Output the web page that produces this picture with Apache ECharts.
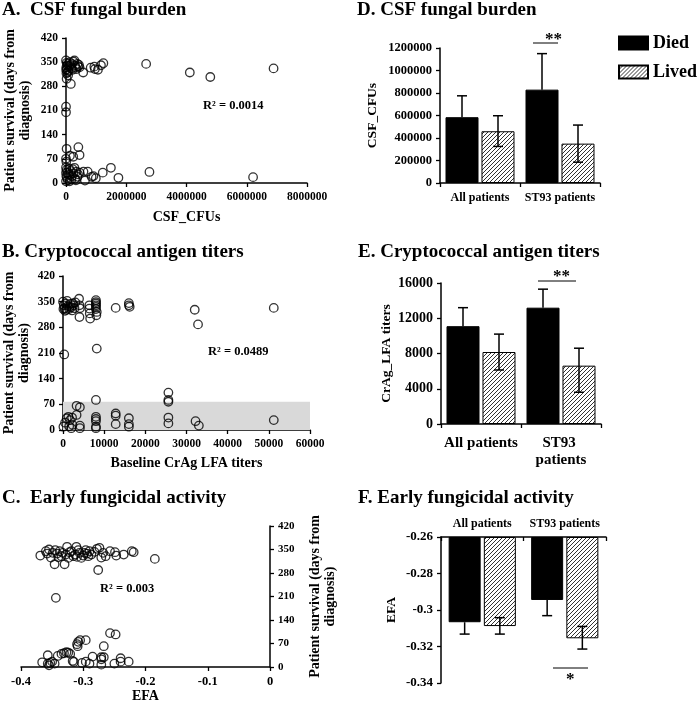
<!DOCTYPE html>
<html><head><meta charset="utf-8">
<script src="https://cdn.jsdelivr.net/npm/echarts@6/dist/echarts.min.js"></script>
<style>html,body{margin:0;padding:0;background:#fff}#c{width:700px;height:708px}</style>
</head><body><div id="c"></div>
<script>
// ---------- DATA ----------
// Panel A: CSF fungal burden (CFU) vs survival days
const scatterA = [
 [0,355],[20000,348],[40000,340],[10000,335],[30000,330],[60000,345],[80000,325],[50000,320],[100000,338],[120000,350],
 [150000,342],[180000,332],[200000,345],[220000,328],[250000,352],[280000,355],[300000,340],[320000,335],[350000,330],[380000,345],
 [400000,338],[430000,342],[450000,335],[5000,328],[15000,318],[70000,312],[20000,302],[160000,287],[570000,320],[820000,334],
 [940000,337],[1060000,328],[1160000,341],[1240000,347],[960000,330],[2660000,345],[4110000,320],[4790000,307],[6890000,332],
 [0,221],[0,205],
 [20000,99],[410000,104],[450000,81],[130000,79],[240000,76],[0,70],[10000,62],
 [0,45],[20000,38],[50000,30],[80000,25],[100000,42],[150000,35],[200000,20],[250000,28],[280000,44],[300000,12],
 [350000,33],[400000,25],[30000,15],[60000,8],[120000,5],[180000,10],[0,5],[10000,20],[0,30],[220000,40],[330000,8],
 [380000,18],[450000,30],[580000,33],[720000,33],[850000,18],[990000,14],[630000,7],[910000,20],[1220000,30],[1490000,44],
 [1740000,15],[2770000,32],[6210000,17]
];
// Panel B: baseline CrAg LFA titers vs survival days
const scatterB = [
 [0,350],[200,340],[400,332],[600,345],[800,328],[1000,352],[1200,338],[1500,330],[1800,344],[2000,335],
 [2200,326],[2500,340],[2800,332],[3000,348],[500,325],[1600,336],[2400,345],[100,330],
 [3900,358],[4000,340],[4000,308],[4100,332],[6400,340],[6400,331],[6500,318],[6600,304],
 [8000,354],[8000,349],[8000,345],[8000,340],[8000,336],[8000,330],[8200,322],[8100,313],
 [8200,222],[300,206],[12800,333],[16000,346],[16000,340],[16200,336],[32000,328],[32800,288],[51200,333],
 [100,9],[900,32],[1300,36],[1700,27],[2200,34],[2300,14],[3300,41],[3300,66],[4100,62],[4100,12],[4100,5],
 [500,20],[1500,10],[2000,5],[8000,82],[8000,36],[8000,30],[8000,24],[8000,9],[8000,5],
 [12800,45],[12800,39],[12800,16],[16000,32],[16000,16],[16000,9],
 [25600,102],[25600,82],[25600,77],[25600,34],[25600,18],[32200,24],[33000,12],[51200,27]
];
const bandB = [0, 77];   // shaded survival range (days)
// Panel C: EFA vs survival days
const scatterC = [
 [-0.369,332],[-0.36,345],[-0.355,350],[-0.349,340],[-0.352,326],[-0.346,306],[-0.342,338],[-0.338,345],[-0.335,330],[-0.33,306],
 [-0.326,358],[-0.324,325],[-0.319,345],[-0.313,335],[-0.31,328],[-0.311,358],[-0.306,340],[-0.3,332],[-0.296,348],[-0.294,338],
 [-0.29,345],[-0.287,335],[-0.276,289],[-0.274,355],[-0.271,326],[-0.264,330],[-0.257,345],[-0.249,342],[-0.247,332],[-0.235,335],
 [-0.222,345],[-0.219,342],[-0.185,322],[-0.358,338],[-0.345,348],[-0.34,327],[-0.333,340],[-0.328,335],[-0.322,342],[-0.316,330],
 [-0.308,348],[-0.303,325],[-0.298,340],[-0.292,330],[-0.282,343],[-0.278,352],[-0.268,340],[-0.344,206],
 [-0.366,14],[-0.357,35],[-0.357,10],[-0.353,12],[-0.35,16],[-0.346,10],[-0.341,33],[-0.335,39],[-0.331,41],[-0.327,44],
 [-0.324,43],[-0.321,39],[-0.317,18],[-0.315,15],[-0.31,68],[-0.308,75],[-0.305,80],[-0.296,80],[-0.309,62],[-0.302,12],
 [-0.296,16],[-0.29,10],[-0.285,31],[-0.271,29],[-0.271,23],[-0.271,7],[-0.267,62],[-0.267,29],[-0.257,101],[-0.248,97],
 [-0.25,10],[-0.24,26],[-0.24,16],[-0.227,16],[-0.355,5]
];
const r2Labels = ['R² = 0.0014', 'R² = 0.0489', 'R² = 0.003'];

const groups = ['All patients', 'ST93 patients'];
const seriesNames = ['Died', 'Lived'];
// Panel D: CSF CFUs
const diedD = [585000, 830000];
const diedDHigh = [775000, 1150000];
const livedD = [460000, 350000];
const livedDLow = [325000, 185000];
const livedDHigh = [598000, 515000];
// Panel E: CrAg LFA titers
const diedE = [11100, 13200];
const diedEHigh = [13200, 15300];
const livedE = [8170, 6620];
const livedELow = [6130, 3600];
const livedEHigh = [10200, 8600];
// Panel F: EFA
const diedF = [-0.3067, -0.2945];
const diedFLow = [-0.3132, -0.3031];
const livedF = [-0.3088, -0.3155];
const livedFLow = [-0.3132, -0.3214];
const livedFHigh = [-0.3042, -0.309];

const ticksScatterY = [0, 420, 70];

// ---------- STYLE ----------
const FF = "'Liberation Serif','Times New Roman',serif";
const hatch = document.createElement('canvas');
hatch.width = 4; hatch.height = 4;
(function(){
  const g = hatch.getContext('2d');
  g.fillStyle = '#fff'; g.fillRect(0,0,4,4);
  g.strokeStyle = '#333'; g.lineWidth = 1;
  g.beginPath();
  g.moveTo(0,4); g.lineTo(4,0);
  g.moveTo(-1,1); g.lineTo(1,-1);
  g.moveTo(3,5); g.lineTo(5,3);
  g.stroke();
})();
const hatchFill = {image: hatch, repeat: 'repeat'};

const axLine = {show:true, lineStyle:{color:'#000', width:1.5}};
const axTick = {show:true, length:4, lineStyle:{color:'#000', width:1.3}};
const lab = (size) => ({color:'#000', fontFamily:FF, fontWeight:'bold', fontSize:size, formatter: v => String(parseFloat(Number(v).toFixed(4)))});
const nameStyle = (size, lh) => ({color:'#000', fontFamily:FF, fontWeight:'bold', fontSize:size, lineHeight: lh || size+1});
const circle = {color:'rgba(0,0,0,0)', borderColor:'#000', borderWidth:1.3};

// capLow / capHigh: whether to draw the cap at the low / high end
function errBar(xi, yi, lows, highs, offset, capLow, capHigh) {
  return {
    type:'custom', xAxisIndex:xi, yAxisIndex:yi, z:10, silent:true,
    data: lows.map((l,i)=>[i, l, highs[i]]),
    renderItem: function(params, api){
      const lo = api.coord([api.value(0), api.value(1)]);
      const hi = api.coord([api.value(0), api.value(2)]);
      const x = lo[0] + offset;
      const st = {stroke:'#000', lineWidth:1.5};
      const ch = [{type:'line', shape:{x1:x, y1:lo[1], x2:x, y2:hi[1]}, style:st}];
      if (capHigh) ch.push({type:'line', shape:{x1:x-5, y1:hi[1], x2:x+5, y2:hi[1]}, style:st});
      if (capLow) ch.push({type:'line', shape:{x1:x-5, y1:lo[1], x2:x+5, y2:lo[1]}, style:st});
      return {type:'group', children:ch};
    }
  };
}

const titleStyle = {color:'#000', fontFamily:FF, fontWeight:'bold', fontSize:19};
const chart = echarts.init(document.getElementById('c'), null, {renderer:'canvas'});

const option = {
  animation:false,
  backgroundColor:'#fff',
  title:[
    {text:'A.  CSF fungal burden', left:2, top:1, padding:0, textStyle:titleStyle},
    {text:'B. Cryptococcal antigen titers', left:2, top:243, padding:0, textStyle:titleStyle},
    {text:'C.  Early fungicidal activity', left:2, top:489, padding:0, textStyle:titleStyle},
    {text:'D. CSF fungal burden', left:357, top:1, padding:0, textStyle:titleStyle},
    {text:'E. Cryptococcal antigen titers', left:358, top:243, padding:0, textStyle:titleStyle},
    {text:'F. Early fungicidal activity', left:358, top:489, padding:0, textStyle:titleStyle}
  ],
  legend:{
    data:seriesNames, orient:'vertical', left:618, top:34, itemWidth:29, itemHeight:13, itemGap:11,
    icon:'rect', padding:0,
    textStyle:{color:'#000', fontFamily:FF, fontWeight:'bold', fontSize:18}
  },
  grid:[
    {left:66, top:38, width:241, height:145},
    {left:63, top:276, width:247, height:154},
    {left:21, top:526, width:249, height:141},
    {left:440, top:48, width:160, height:135},
    {left:441, top:283, width:160, height:141},
    {left:441, top:537, width:165, height:146}
  ],
  xAxis:[
    {gridIndex:0, type:'value', min:0, max:8000000, interval:2000000, axisLine:axLine, axisTick:axTick, splitLine:{show:false},
     axisLabel:lab(11.5), name:'CSF_CFUs', nameLocation:'middle', nameGap:27, nameTextStyle:nameStyle(14)},
    {gridIndex:1, type:'value', min:0, max:60000, interval:10000, axisLine:axLine, axisTick:axTick, splitLine:{show:false},
     axisLabel:lab(11.5), name:'Baseline CrAg LFA titers', nameLocation:'middle', nameGap:26, nameTextStyle:nameStyle(14)},
    {gridIndex:2, type:'value', min:-0.4, max:0, interval:0.1, axisLine:axLine, axisTick:axTick, splitLine:{show:false},
     axisLabel:lab(12.5), name:'EFA', nameLocation:'middle', nameGap:22, nameTextStyle:nameStyle(14)},
    {gridIndex:3, type:'category', data:groups, axisLine:axLine, axisTick:axTick,
     axisLabel:{interval:0, color:'#000', fontFamily:FF, fontWeight:'bold', fontSize:12, margin:9}},
    {gridIndex:4, type:'category', data:groups, axisLine:axLine, axisTick:axTick,
     axisLabel:{interval:0, color:'#000', fontFamily:FF, fontWeight:'bold', fontSize:15, margin:11, width:82, overflow:'break', lineHeight:17}},
    {gridIndex:5, type:'category', data:groups, position:'top', axisLine:axLine, axisTick:{show:true, inside:true, length:4, lineStyle:{color:'#000', width:1.3}},
     axisLabel:{interval:0, color:'#000', fontFamily:FF, fontWeight:'bold', fontSize:12, margin:7}}
  ],
  yAxis:[
    {gridIndex:0, type:'value', min:ticksScatterY[0], max:ticksScatterY[1], interval:ticksScatterY[2], axisLine:axLine, axisTick:axTick, splitLine:{show:false},
     axisLabel:lab(11.5), name:'Patient survival (days from\ndiagnosis)', nameLocation:'middle', nameGap:33, nameTextStyle:nameStyle(14,15)},
    {gridIndex:1, type:'value', min:ticksScatterY[0], max:ticksScatterY[1], interval:ticksScatterY[2], axisLine:axLine, axisTick:axTick, splitLine:{show:false},
     axisLabel:lab(11.5), name:'Patient survival (days from\ndiagnosis)', nameLocation:'middle', nameGap:31, nameTextStyle:nameStyle(14,15)},
    {gridIndex:2, type:'value', position:'right', min:ticksScatterY[0], max:ticksScatterY[1], interval:ticksScatterY[2], axisLine:axLine, axisTick:axTick, splitLine:{show:false},
     axisLabel:lab(11), name:'Patient survival (days from\ndiagnosis)', nameLocation:'middle', nameGap:38, nameTextStyle:nameStyle(14,15)},
    {gridIndex:3, type:'value', min:0, max:1200000, interval:200000, axisLine:axLine, axisTick:axTick, splitLine:{show:false},
     axisLabel:lab(12.5), name:'CSF_CFUs', nameLocation:'middle', nameGap:60, nameTextStyle:nameStyle(13.5)},
    {gridIndex:4, type:'value', min:0, max:16000, interval:4000, axisLine:axLine, axisTick:axTick, splitLine:{show:false},
     axisLabel:lab(14), name:'CrAg_LFA titers', nameLocation:'middle', nameGap:46, nameTextStyle:nameStyle(13.5)},
    {gridIndex:5, type:'value', min:-0.34, max:-0.26, interval:0.02, startValue:-0.26, axisLine:axLine, axisTick:axTick, splitLine:{show:false},
     axisLabel:lab(13), name:'EFA', nameLocation:'middle', nameGap:42, nameTextStyle:nameStyle(13.5)}
  ],
  graphic:[
    {type:'text', left:203, top:99, style:{text:r2Labels[0], fill:'#000', font:"bold 12.5px 'Liberation Serif', serif"}},
    {type:'text', left:208, top:345, style:{text:r2Labels[1], fill:'#000', font:"bold 12.5px 'Liberation Serif', serif"}},
    {type:'text', left:100, top:582, style:{text:r2Labels[2], fill:'#000', font:"bold 12.5px 'Liberation Serif', serif"}},
    {type:'line', shape:{x1:533, y1:43, x2:558, y2:43}, style:{stroke:'#000', lineWidth:1}},
    {type:'text', left:545, top:31, style:{text:'**', fill:'#000', font:"bold 17px 'Liberation Serif', serif"}},
    {type:'line', shape:{x1:538, y1:281, x2:576, y2:281}, style:{stroke:'#000', lineWidth:1}},
    {type:'text', left:553, top:268, style:{text:'**', fill:'#000', font:"bold 17px 'Liberation Serif', serif"}},
    {type:'line', shape:{x1:553, y1:668, x2:588, y2:668}, style:{stroke:'#000', lineWidth:1}},
    {type:'text', left:566, top:671, style:{text:'*', fill:'#000', font:"bold 17px 'Liberation Serif', serif"}}
  ],
  series:[
    {type:'scatter', xAxisIndex:0, yAxisIndex:0, data:scatterA, symbol:'circle', symbolSize:8.5, itemStyle:circle, silent:true},
    {type:'scatter', xAxisIndex:1, yAxisIndex:1, data:scatterB, symbol:'circle', symbolSize:8.5, itemStyle:circle, silent:true, z:3,
     markArea:{silent:true, itemStyle:{color:'#d9d9d9'}, data:[[{coord:[0, bandB[0]]},{coord:[60000, bandB[1]]}]]}},
    {type:'scatter', xAxisIndex:2, yAxisIndex:2, data:scatterC, symbol:'circle', symbolSize:8.5, itemStyle:circle, silent:true},

    {name:'Died', type:'bar', xAxisIndex:3, yAxisIndex:3, data:diedD, barWidth:33, barGap:'9%', itemStyle:{color:'#000', borderColor:'#000', borderWidth:1}},
    {name:'Lived', type:'bar', xAxisIndex:3, yAxisIndex:3, data:livedD, barWidth:33, barGap:'9%', itemStyle:{color:hatchFill, borderColor:'#000', borderWidth:1}},
    errBar(3,3, diedD, diedDHigh, -18, false, true),
    errBar(3,3, livedDLow, livedDHigh, 18, true, true),

    {name:'Died', type:'bar', xAxisIndex:4, yAxisIndex:4, data:diedE, barWidth:33, barGap:'9%', itemStyle:{color:'#000', borderColor:'#000', borderWidth:1}},
    {name:'Lived', type:'bar', xAxisIndex:4, yAxisIndex:4, data:livedE, barWidth:33, barGap:'9%', itemStyle:{color:hatchFill, borderColor:'#000', borderWidth:1}},
    errBar(4,4, diedE, diedEHigh, -18, false, true),
    errBar(4,4, livedELow, livedEHigh, 18, true, true),

    {name:'Died', type:'bar', xAxisIndex:5, yAxisIndex:5, data:diedF, barWidth:32, barGap:'10%', clip:true, itemStyle:{color:'#000', borderColor:'#000', borderWidth:1}},
    {name:'Lived', type:'bar', xAxisIndex:5, yAxisIndex:5, data:livedF, barWidth:32, barGap:'10%', clip:true, itemStyle:{color:hatchFill, borderColor:'#000', borderWidth:1}},
    errBar(5,5, diedFLow, diedF, -17.6, true, false),
    errBar(5,5, livedFLow, livedFHigh, 17.6, true, true)
  ]
};
chart.setOption(option);
</script>
</body></html>
